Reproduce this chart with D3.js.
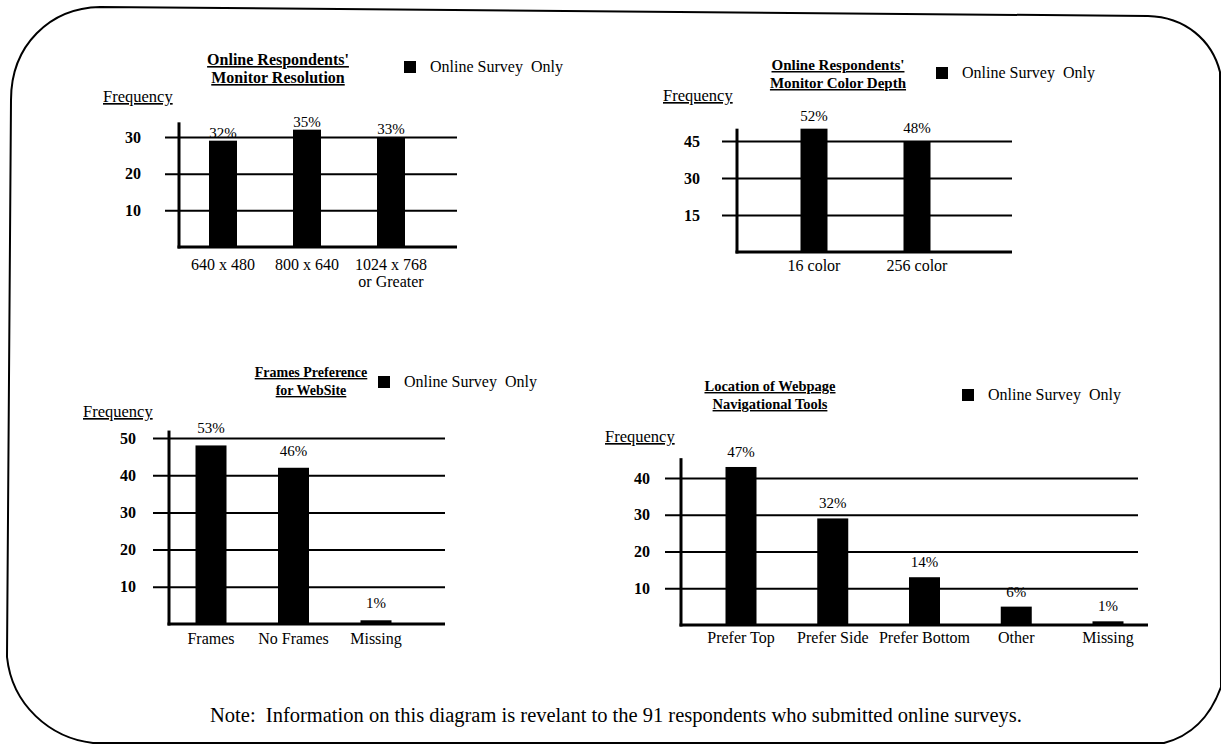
<!DOCTYPE html>
<html>
<head>
<meta charset="utf-8">
<script src="https://cdn.jsdelivr.net/npm/d3@7"></script>
<style>
  html, body { margin: 0; padding: 0; background: #fff; }
  svg { display: block; }
  text { font-family: "Liberation Serif", "Times New Roman", serif; fill: #000; }
</style>
</head>
<body>
<svg id="chart" width="1221" height="744"></svg>
<script>
// ---------------- DATA ----------------
const legendLabel = "Online Survey  Only";

const resCategories = ["640 x 480", "800 x 640", "1024 x 768|or Greater"];
const resValues = [29, 32, 30];
const resPercents = ["32%", "35%", "33%"];
const resTicks = [10, 20, 30];
const resTitle = ["Online Respondents'", "Monitor Resolution"];

const depthCategories = ["16 color", "256 color"];
const depthValues = [50, 45];
const depthPercents = ["52%", "48%"];
const depthTicks = [15, 30, 45];
const depthTitle = ["Online Respondents'", "Monitor Color Depth"];

const framesCategories = ["Frames", "No Frames", "Missing"];
const framesValues = [48, 42, 1];
const framesPercents = ["53%", "46%", "1%"];
const framesTicks = [10, 20, 30, 40, 50];
const framesTitle = ["Frames Preference", "for WebSite"];

const navCategories = ["Prefer Top", "Prefer Side", "Prefer Bottom", "Other", "Missing"];
const navValues = [43, 29, 13, 5, 1];
const navPercents = ["47%", "32%", "14%", "6%", "1%"];
const navTicks = [10, 20, 30, 40];
const navTitle = ["Location of Webpage", "Navigational Tools"];

const yLabel = "Frequency";
const noteText = "Note:  Information on this diagram is revelant to the 91 respondents who submitted online surveys.";

// ---------------- LAYOUT ----------------
const svg = d3.select("#chart");

// rounded frame
svg.append("path")
  .attr("d", "M 11,100 C 11,45 50,8 100,7 L 1148,16 C 1185,17 1212,40 1220,72 L 1221,687 C 1212,712 1195,735 1164,743 L 93,743 C 50,738 12,705 7,657 Z")
  .attr("fill", "none").attr("stroke", "#000").attr("stroke-width", 2);

function panel(cfg) {
  const g = svg.append("g");
  const y = d3.scaleLinear().domain([0, cfg.refVal]).range([cfg.y0, cfg.yRef]);
  const x = d3.scalePoint().domain(cfg.categories).range(cfg.xRange);

  // gridlines + tick labels through d3 axis
  const axis = d3.axisLeft(y)
    .tickValues(cfg.ticks)
    .tickSize(-(cfg.gridEnd - cfg.gridStart))
    .tickPadding(cfg.tickPad)
    .tickFormat(d3.format("d"));
  const ag = g.append("g").attr("transform", `translate(${cfg.gridStart},0)`).call(axis);
  ag.select(".domain").remove();
  ag.selectAll(".tick line").attr("stroke", "#000").attr("stroke-width", 2);
  ag.selectAll(".tick text")
    .style("font-family", '"Liberation Serif", "Times New Roman", serif')
    .style("font-size", "16px").style("font-weight", "bold").attr("fill", "#000");

  // y axis line
  g.append("line")
    .attr("x1", cfg.axisX).attr("x2", cfg.axisX)
    .attr("y1", y(cfg.topVal)).attr("y2", y(0) + 1.5)
    .attr("stroke", "#000").attr("stroke-width", 3);
  // baseline
  g.append("line")
    .attr("x1", cfg.axisX - 1.5).attr("x2", cfg.baseEnd)
    .attr("y1", y(0)).attr("y2", y(0))
    .attr("stroke", "#000").attr("stroke-width", 3);

  // bars
  g.selectAll("rect.bar").data(cfg.values).enter().append("rect")
    .attr("class", "bar")
    .attr("x", (d, i) => x(cfg.categories[i]) - cfg.barW / 2)
    .attr("width", cfg.barW)
    .attr("y", d => y(d))
    .attr("height", d => y(0) - y(d))
    .attr("fill", "#000");

  // percent labels
  g.selectAll("text.pct").data(cfg.values).enter().append("text")
    .attr("class", "pct")
    .attr("x", (d, i) => x(cfg.categories[i]))
    .attr("y", d => y(d) - cfg.labelGap)
    .attr("text-anchor", "middle")
    .style("font-size", "15px")
    .text((d, i) => cfg.percents[i]);

  // category labels
  cfg.categories.forEach(c => {
    const lines = c.split("|");
    const t = g.append("text")
      .attr("x", x(c)).attr("y", cfg.xLabelY)
      .attr("text-anchor", "middle").style("font-size", "16px");
    lines.forEach((l, k) => {
      t.append("tspan").attr("x", x(c)).attr("dy", k === 0 ? 0 : 17).text(l);
    });
  });

  // Frequency label
  g.append("text")
    .attr("x", cfg.freqX).attr("y", cfg.freqY)
    .style("font-size", "16.5px").style("text-decoration", "underline")
    .text(yLabel);

  // title
  cfg.title.forEach((l, k) => {
    g.append("text")
      .attr("x", cfg.titleX).attr("y", cfg.titleY + k * 18)
      .attr("text-anchor", "middle")
      .style("font-size", cfg.titleSize + "px").style("font-weight", "bold")
      .style("text-decoration", "underline")
      .text(l);
  });

  // legend
  g.append("rect").attr("x", cfg.legX).attr("y", cfg.legY - 11)
    .attr("width", 12).attr("height", 12).attr("fill", "#000");
  g.append("text").attr("x", cfg.legX + 26).attr("y", cfg.legY)
    .style("font-size", "16px")
    .attr("xml:space", "preserve")
    .text(legendLabel);
}

panel({
  categories: resCategories, values: resValues, percents: resPercents, ticks: resTicks, title: resTitle,
  refVal: 30, y0: 247, yRef: 137, topVal: 34,
  axisX: 179, gridStart: 165, gridEnd: 457, baseEnd: 457, tickPad: 24,
  xRange: [223, 391], barW: 28, labelGap: 3, xLabelY: 270,
  freqX: 103, freqY: 102, titleX: 278, titleY: 65, titleSize: 16, legX: 404, legY: 72
});

panel({
  categories: depthCategories, values: depthValues, percents: depthPercents, ticks: depthTicks, title: depthTitle,
  refVal: 45, y0: 252, yRef: 141, topVal: 50,
  axisX: 737, gridStart: 722, gridEnd: 1012, baseEnd: 1012, tickPad: 22,
  xRange: [814, 917], barW: 27, labelGap: 8, xLabelY: 271,
  freqX: 663, freqY: 101, titleX: 838, titleY: 70, titleSize: 15, legX: 936, legY: 78
});

panel({
  categories: framesCategories, values: framesValues, percents: framesPercents, ticks: framesTicks, title: framesTitle,
  refVal: 50, y0: 624, yRef: 438, topVal: 52,
  axisX: 169, gridStart: 153, gridEnd: 445, baseEnd: 445, tickPad: 17,
  xRange: [211, 376], barW: 31, labelGap: 12, xLabelY: 644,
  freqX: 83, freqY: 417, titleX: 311, titleY: 377, titleSize: 14, legX: 378, legY: 387
});

panel({
  categories: navCategories, values: navValues, percents: navPercents, ticks: navTicks, title: navTitle,
  refVal: 40, y0: 625, yRef: 478, topVal: 45.4,
  axisX: 681, gridStart: 665, gridEnd: 1138, baseEnd: 1148, tickPad: 15,
  xRange: [741, 1108], barW: 31, labelGap: 10, xLabelY: 643,
  freqX: 605, freqY: 442, titleX: 770, titleY: 391, titleSize: 14.5, legX: 962, legY: 400
});

// note
svg.append("text")
  .attr("x", 616).attr("y", 722)
  .attr("text-anchor", "middle")
  .style("font-size", "20.5px")
  .attr("xml:space", "preserve")
  .text(noteText);
</script>
</body>
</html>
